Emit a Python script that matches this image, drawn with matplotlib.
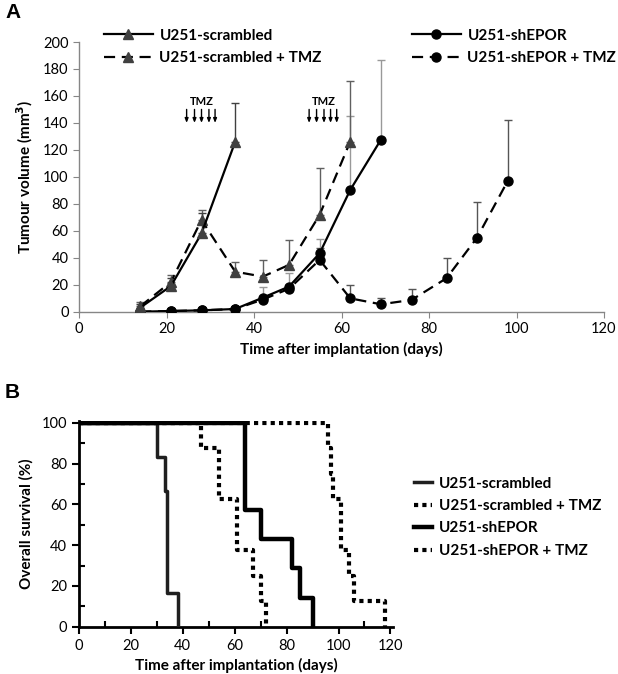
import numpy as np
import matplotlib.pyplot as plt
from matplotlib.lines import Line2D

plt.rcParams['font.family'] = ['Lato', 'DejaVu Sans']

# ---- Panel A: tumour volume (mm3), upper error only ----
scr_days = [14, 21, 28, 35.7]
scr_vol = [3, 19, 58, 126]
scr_err = [3, 6, 15, 29]

scr_tmz_days = [14, 21, 28, 35.7, 42, 48, 55, 62]
scr_tmz_vol = [4, 22, 68, 29.7, 26, 34.7, 71.8, 126.2]
scr_tmz_err = [3, 5, 7.5, 7, 12.4, 18.5, 34.6, 44.6]

ep_days = [14, 21, 28, 35.7, 42, 48, 55, 62, 69]
ep_vol = [0, 0.5, 1, 2, 10.4, 18.6, 43.3, 90.3, 127.5]
ep_err = [0.5, 0.5, 0.5, 1, 8, 10, 10.4, 54.5, 58.8]

ep_tmz_days = [14, 21, 28, 35.7, 42, 48, 55, 62, 69, 76, 84, 91, 98]
ep_tmz_vol = [0, 0.5, 1, 2, 9, 17, 38.4, 9.9, 5.5, 8.7, 24.8, 55, 97]
ep_tmz_err = [0.5, 0.5, 0.5, 1, 3, 3, 8.6, 9.9, 4.9, 7.9, 14.8, 26, 44.8]

tmz_arrows_1 = [24.6, 26.4, 28.0, 29.7, 31.1]
tmz_arrows_2 = [52.6, 54.3, 56.0, 57.5, 58.9]

# ---- Panel B: Kaplan-Meier steps ----
km_scr_t = [0, 30, 33, 34, 38]
km_scr_s = [100, 83.3, 66.7, 16.7, 0]
km_scr_tmz_t = [0, 47, 54, 61, 67, 70, 72]
km_scr_tmz_s = [100, 87.5, 62.5, 37.5, 25, 12.5, 0]
km_ep_t = [0, 64, 70, 82, 85, 90]
km_ep_s = [100, 57.1, 42.9, 28.6, 14.3, 0]
km_ep_tmz_t = [0, 96, 97, 98, 101, 104, 106, 118]
km_ep_tmz_s = [100, 87.5, 75, 62.5, 37.5, 25, 12.5, 0]

W, H = 618, 674
fig = plt.figure(figsize=(W / 100, H / 100), dpi=100)

axA = fig.add_axes([79 / W, 1 - 311.7 / H, (604 - 79) / W, (311.7 - 42) / H])
axB = fig.add_axes([79 / W, 1 - 626.7 / H, (393 - 79) / W, (626.7 - 420.7) / H])

dash = (0, (5, 3))
tri_col = '#404040'
lw_a = 1.6

def draw(ax, x, y, e, ls, marker, mcol, ecol, ms):
    ax.errorbar(x, y, yerr=[np.zeros(len(e)), e], fmt='none', ecolor=ecol,
                elinewidth=1, capsize=3, capthick=1, zorder=2)
    ax.plot(x, y, color='black', ls=ls, lw=lw_a, marker=marker, ms=ms,
            mfc=mcol, mec=mcol, zorder=3)

draw(axA, ep_tmz_days, ep_tmz_vol, ep_tmz_err, dash, 'o', 'black', '#555555', 6.5)
draw(axA, ep_days, ep_vol, ep_err, '-', 'o', 'black', '#999999', 6.5)
draw(axA, scr_tmz_days, scr_tmz_vol, scr_tmz_err, dash, '^', tri_col, '#606060', 7)
draw(axA, scr_days, scr_vol, scr_err, '-', '^', tri_col, '#404040', 7)

for arrows in (tmz_arrows_1, tmz_arrows_2):
    for d in arrows:
        axA.annotate('', xy=(d, 140), xytext=(d, 150),
                     arrowprops=dict(arrowstyle='-|>,head_length=0.25,head_width=0.1',
                                     color='black', lw=1, shrinkA=0, shrinkB=0))
    axA.text(np.mean(arrows), 152, 'TMZ', ha='center', va='bottom',
             fontsize=8, fontweight='bold')

axA.set_xlim(0, 120)
axA.set_ylim(0, 200)
axA.set_xticks(np.arange(0, 121, 20))
axA.set_yticks(np.arange(0, 201, 20))
for s in ['top', 'right']:
    axA.spines[s].set_visible(False)
for s in ['left', 'bottom']:
    axA.spines[s].set_color('#868686')
    axA.spines[s].set_linewidth(1)
axA.tick_params(colors='#868686', labelcolor='black', labelsize=10.5, length=4)
axA.set_xlabel('Time after implantation (days)', fontsize=11, fontweight='bold', labelpad=4)
axA.set_ylabel('Tumour volume (mm$^\\mathbf{3}$)', fontsize=11, fontweight='bold', labelpad=6)

hA1 = [Line2D([], [], color='black', lw=lw_a, marker='^', ms=7, mfc=tri_col, mec=tri_col),
       Line2D([], [], color='black', lw=lw_a, ls=dash, marker='^', ms=7, mfc=tri_col, mec=tri_col)]
hA2 = [Line2D([], [], color='black', lw=lw_a, marker='o', ms=6.5),
       Line2D([], [], color='black', lw=lw_a, ls=dash, marker='o', ms=6.5)]
legA1 = fig.legend(hA1, ['U251-scrambled', 'U251-scrambled + TMZ'], loc='upper left',
                   bbox_to_anchor=(96 / W, 1 - 21 / H), frameon=False, borderpad=0,
                   handlelength=3.2, handletextpad=0.45, labelspacing=0.55,
                   prop=dict(weight='bold', size=11))
legA2 = fig.legend(hA2, ['U251-shEPOR', 'U251-shEPOR + TMZ'], loc='upper left',
                   bbox_to_anchor=(404 / W, 1 - 21 / H), frameon=False, borderpad=0,
                   handlelength=3.2, handletextpad=0.45, labelspacing=0.55,
                   prop=dict(weight='bold', size=11))

# ---- Panel B ----
dot = (0, (1, 1))
axB.step(km_scr_t, km_scr_s, where='post', color='#1f1f1f', lw=2.5, zorder=3)
axB.step(km_scr_tmz_t, km_scr_tmz_s, where='post', color='black', lw=3, ls=dot, zorder=2)
axB.step(km_ep_t, km_ep_s, where='post', color='black', lw=3.2, zorder=3)
axB.step(km_ep_tmz_t, km_ep_tmz_s, where='post', color='black', lw=3, ls=dot, zorder=2)

axB.set_xlim(0, 121)
axB.set_ylim(0, 101)
axB.set_xticks(np.arange(0, 121, 20))
axB.set_xticks(np.arange(10, 121, 20), minor=True)
axB.set_yticks(np.arange(0, 101, 20))
axB.set_yticks(np.arange(10, 101, 20), minor=True)
for s in ['top', 'right']:
    axB.spines[s].set_visible(False)
for s in ['left', 'bottom']:
    axB.spines[s].set_linewidth(2)
axB.tick_params(which='major', direction='out', length=5, width=1.5, labelsize=10.5)
axB.tick_params(which='minor', direction='in', length=4, width=1.5)
axB.set_xlabel('Time after implantation (days)', fontsize=11, fontweight='bold', labelpad=4)
axB.set_ylabel('Overall survival (%)', fontsize=11, fontweight='bold', labelpad=6)

hB = [Line2D([], [], color='#1f1f1f', lw=2.5),
      Line2D([], [], color='black', lw=3, ls=dot),
      Line2D([], [], color='black', lw=3.2),
      Line2D([], [], color='black', lw=3, ls=dot)]
fig.legend(hB, ['U251-scrambled', 'U251-scrambled + TMZ', 'U251-shEPOR', 'U251-shEPOR + TMZ'],
           loc='upper left', bbox_to_anchor=(406 / W, 1 - 469 / H), frameon=False,
           borderpad=0, handlelength=1.2, handletextpad=0.45, labelspacing=0.55,
           prop=dict(weight='bold', size=11))

fig.text(5 / W, 1 - 18 / H, 'A', fontsize=15, fontweight='bold', family='Liberation Sans')
fig.text(5 / W, 1 - 398 / H, 'B', fontsize=15, fontweight='bold', family='Liberation Sans')

fig.savefig('out.png', dpi=100)
